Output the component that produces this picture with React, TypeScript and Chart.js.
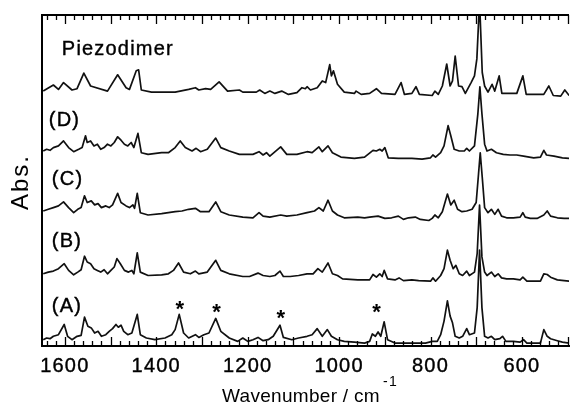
import React, { useEffect, useRef } from "react";
import { Chart, registerables } from "chart.js";

Chart.register(...registerables);

const FONT = "'Liberation Sans', Arial, Helvetica, sans-serif";

// ---- axis ----
const X_MAX = 1650; // left edge (wavenumber axis runs right-to-left)
const X_MIN = 497;
const Y_MIN = 0;
const Y_MAX = 331;
const xTickLabels = [600, 800, 1000, 1200, 1400, 1600];

// ---- spectra: [wavenumber / cm-1, absorbance (arb.)] ----
const piezodimer: [number, number][] = [
  [1647.3, 4.9], [1625.1, 11], [1614, 6.6], [1602.9, 13.4], [1584.4, 6], [1573.3, 7.3], [1558.5, 22.9],
  [1543.7, 10], [1506.7, 4.9], [1484.5, 21.2], [1466, 8.3], [1458.6, 6.6], [1443.8, 25.2], [1438.6, 26.2],
  [1432.7, 6], [1410.5, 3.9], [1358.7, 3.9], [1329.1, 6.6], [1314.3, 8.3], [1306.9, 6], [1292.1, 7.3],
  [1281, 6.6], [1262.5, 14.1], [1244, 4.9], [1218.1, 6], [1210.7, 3.9], [1181.1, 3.9], [1173.7, 6],
  [1162.6, 2.6], [1151.5, 4.9], [1140.4, 2.6], [1125.6, 4.9], [1110.8, 1.6], [1092.3, 3.3], [1081.2, 8.3],
  [1073.8, 7.3], [1070.1, 9.3], [1062.7, 6], [1047.9, 8.3], [1036.8, 15.1], [1029.4, 13.4], [1020.5, 31.3],
  [1016.8, 20.1], [1012.4, 25.2], [1003.5, 11.7], [988.7, 3.9], [966.5, 2.6], [962.8, 4.9], [951.7, 1.6],
  [933.2, 2.6], [918.4, 7.3], [907.3, 2.6], [877.7, 1.6], [864.4, 13.4], [857, 1.6], [840.7, 2.6],
  [831.8, 9.3], [824.4, 1.6], [796.3, 0.5], [790.4, 4.9], [783, 1.6], [774.1, 10], [764.5, 32],
  [757.1, 10], [751.9, 15.1], [746, 39.8], [738.6, 10], [731.2, 9.3], [723.8, 2.6], [711.2, 13.4],
  [703.8, 20.1], [698.6, 37.1], [692.7, 95], [686.8, 23.5], [681.6, 10], [674.2, 3.9], [665.3, 11.7],
  [659.4, 4.9], [649.8, 20.1], [643.9, 2.6], [611.2, 2.6], [597.9, 20.1], [590.6, 1.6], [552.2, 1.6],
  [541.1, 10], [531.4, 0.5], [515.1, -0.1], [506.2, 6], [496.6, 0.5],
];

const sampleD: [number, number][] = [
  [1647.3, 5], [1639.9, 6.7], [1632.5, 5.7], [1625.1, 8.4], [1614, 10.1], [1602.9, 15.1], [1591.8, 8.4],
  [1580.7, 4.3], [1569.6, 6.7], [1562.2, 8.4], [1554.8, 20.2], [1551.1, 13.5], [1543.7, 15.1], [1536.3, 10.1],
  [1528.9, 11.8], [1521.5, 6.7], [1514.1, 8.4], [1506.7, 11.8], [1499.3, 10.1], [1491.9, 13.5], [1484.5, 19.2],
  [1477.1, 15.8], [1469.7, 11.8], [1462.3, 10.1], [1454.9, 13.5], [1449, 8.4], [1440.1, 22.6], [1432.7, 3.3],
  [1417.9, 1.6], [1388.3, 3.3], [1373.5, 3.3], [1358.7, 8.4], [1347.6, 15.1], [1336.5, 8.4], [1321.7, 5],
  [1312.8, 7.7], [1303.2, 4.3], [1288.4, 6.7], [1269.9, 17.9], [1258.8, 8.4], [1240.3, 5], [1218.1, 1.6],
  [1188.5, 1.6], [1175.2, 4.3], [1166.3, 1], [1158.9, 3.3], [1151.5, -0.1], [1127.8, 9.1], [1114.5, 1.6],
  [1092.3, 1.6], [1070.1, 4.3], [1059, 3.3], [1044.2, 9.1], [1036.8, 4.3], [1024.2, 10.1], [1014.6, 3.3],
  [996.1, -1.1], [966.5, -2.4], [944.3, -1.1], [925.8, 5.7], [918.4, 5], [911, 6.7], [905.8, 5],
  [899.9, 8.4], [892.5, -1.8], [870.3, -2.4], [840.7, -2.4], [818.5, -3.1], [800, -1.8], [794.8, 1],
  [788.9, -1.1], [777.8, 3.3], [770.4, 10.1], [761.5, 30.4], [755.6, 20.2], [748.2, 6.7], [737.1, 5],
  [726, 5], [720.8, 7.7], [714.9, 5], [703.8, 10.1], [696.4, 42.2], [692, 69.2], [687.5, 42.2],
  [681.6, 11.8], [676.4, 5], [666.8, 6.7], [655.7, 3.3], [640.9, 1.6], [626.1, 1], [611.3, 1],
  [596.5, -0.1], [574.3, -1.8], [559.5, -1.1], [552.1, 5.7], [546.2, 1], [529.9, -0.1], [511.4, -1.8],
  [496.6, -2.4],
];

const sampleC: [number, number][] = [
  [1647.3, 7], [1636.2, 8.7], [1625.1, 10.4], [1614, 12.1], [1602.9, 16.1], [1591.8, 10.4], [1580.7, 5.3],
  [1571.8, 8.7], [1564.4, 10.4], [1557, 22.2], [1551.1, 15.5], [1542.2, 17.1], [1534.8, 13.1], [1527.4, 14.4],
  [1520, 10.4], [1510.4, 12.1], [1503, 10.4], [1495.6, 13.1], [1484.5, 24.6], [1477.1, 15.5], [1466, 12.1],
  [1458.6, 10.4], [1451.2, 13.1], [1447.5, 9.7], [1441.6, 24.6], [1434.9, 5.3], [1417.9, 3], [1388.3, 4.3],
  [1358.7, 6.3], [1343.9, 7], [1329.1, 8.7], [1314.3, 9.7], [1303.2, 6.3], [1284.7, 6.3], [1269.9, 16.1],
  [1258.8, 6.3], [1240.3, 3], [1210.7, 0.9], [1188.5, 0.2], [1175.2, 5.3], [1166.3, 1.9], [1151.5, 0.9],
  [1127.8, 3], [1114.5, 1.9], [1092.3, 3], [1070.1, 5.3], [1053.8, 7], [1044.2, 10.4], [1034.6, 7],
  [1024.2, 17.8], [1014.6, 7], [1003.5, 3], [988.7, 0.2], [959.1, 0.9], [944.3, 0.2], [933.2, 0.9],
  [914.7, 1.9], [899.9, -0.4], [885.1, 0.2], [870.3, 1.9], [859.2, -1.4], [848.1, 0.2], [833.3, 0.9],
  [822.2, -1.4], [803.7, -2.5], [796.3, -0.4], [790.4, 3], [783, 0.2], [774.1, 6.3], [763, 23.9],
  [755.6, 13.1], [748.2, 17.8], [740.8, 8.7], [731.2, 6.3], [720.8, 7], [709, 8.7], [700.1, 15.5],
  [694.9, 44.2], [691.2, 65.2], [686.8, 40.8], [681.6, 10.4], [674.2, 5.3], [666.8, 8.7], [659.4, 3.6],
  [652, 8.7], [644.6, 1.9], [633.5, 0.2], [618.7, 0.2], [603.9, 0.9], [598, 5.3], [592.8, 0.9],
  [581.7, -0.4], [566.9, -0.4], [552.1, 3], [544.7, 7], [537.3, 1.9], [522.5, 0.2], [507.7, -0.4],
  [496.6, -0.4],
];

const sampleB: [number, number][] = [
  [1647.3, 6.2], [1636.2, 7.9], [1625.1, 8.9], [1614, 11.3], [1601.4, 16.3], [1591.8, 9.6], [1580.7, 5.2],
  [1571.8, 7.9], [1564.4, 10.3], [1557, 23.8], [1551.1, 18], [1543.7, 16.3], [1536.3, 11.3], [1528.9, 9.6],
  [1521.5, 7.9], [1514.1, 10.3], [1506.7, 6.2], [1499.3, 9.6], [1491.9, 13], [1486, 21.4], [1478.6, 16.3],
  [1469.7, 9.6], [1460.8, 7.9], [1453.4, 9.6], [1449, 6.2], [1441.6, 27.2], [1434.9, 7.9], [1417.9, 4.5],
  [1388.3, 5.2], [1373.5, 6.2], [1362.4, 9.6], [1351.3, 17], [1340.2, 7.9], [1325.4, 6.2], [1314.3, 8.9],
  [1306.9, 6.2], [1288.4, 7.9], [1269.9, 19.7], [1258.8, 9.6], [1240.3, 6.2], [1210.7, 3.5], [1195.9, 3.5],
  [1177.4, 6.9], [1166.3, 4.5], [1151.5, 3.5], [1140.4, 4.5], [1129.3, 8.9], [1121.9, 3.5], [1107.1, 3.5],
  [1088.6, 4.5], [1070.1, 6.2], [1056.8, 6.2], [1046.4, 11.3], [1036.8, 7.9], [1024.2, 17], [1014.6, 6.2],
  [1003.5, 4.5], [992.4, 1.1], [959.1, 0.1], [933.2, 0.1], [925.8, 5.5], [918.4, 2.8], [911, 6.2],
  [905.8, 3.5], [901.4, 9.6], [894, 1.1], [877.7, 0.1], [868.8, 2.1], [859.2, -0.6], [840.7, 0.1],
  [825.9, -0.6], [800, -1.2], [794.8, 2.1], [788.9, -1.2], [777.8, 4.5], [770.4, 11.3], [763, 29.9],
  [757.1, 19.7], [750.4, 11.3], [744.5, 14.6], [737.1, 6.2], [729.7, 4.5], [720.8, 8.9], [714.9, 4.5],
  [703.8, 7.9], [697.9, 26.5], [692.7, 75], [687.5, 23.1], [681.6, 7.9], [676.4, 4.5], [666.8, 7.9],
  [659.4, 3.5], [652, 6.2], [644.6, 2.1], [633.5, 1.1], [618.7, 1.1], [603.9, 0.1], [598, 2.8],
  [589.1, -1.2], [559.5, -1.2], [552.1, 6.2], [544.7, 5.5], [537.3, 2.8], [522.5, 0.1], [507.7, -0.6],
  [496.6, -1.2],
];

const sampleA: [number, number][] = [
  [1647.3, 2.3], [1639.9, 4], [1632.5, 3.3], [1625.1, 5.7], [1614, 7.3], [1601.4, 17.5], [1594, 5.7],
  [1584.4, 2.3], [1573.3, 5.7], [1564.4, 6.7], [1557, 24.9], [1549.6, 15.8], [1542.2, 14.1], [1534.8, 9],
  [1527.4, 10.7], [1520, 5.7], [1510.4, 7.3], [1503, 10.7], [1495.6, 13.4], [1488.2, 17.5], [1483, 14.8],
  [1477.1, 16.8], [1471.2, 10.7], [1462.3, 7.3], [1453.4, 9], [1441.6, 27.6], [1434.9, 7.3], [1421.6, 4],
  [1403.1, 2.3], [1380.9, 4], [1366.1, 7.3], [1358.7, 12.4], [1349.8, 27.6], [1340.2, 9], [1329.1, 4],
  [1314.3, 7.3], [1306.9, 4.6], [1295.8, 7.3], [1284.7, 9], [1269.9, 23.6], [1258.8, 10.7], [1240.3, 4],
  [1221.8, 0.6], [1210.7, 4], [1199.6, 0.6], [1188.5, 2.3], [1177.4, 4.6], [1166.3, 1.3], [1155.2, 2.3],
  [1144.1, 5.7], [1129.3, 16.8], [1121.9, 4.6], [1103.4, 2.3], [1088.6, 4], [1070.1, 5.7], [1059, 7.3],
  [1047.9, 13.4], [1036.8, 5.7], [1025.7, 12.4], [1016.8, 5.7], [1003.5, 2.3], [988.7, 0.6], [966.5, -0.1],
  [944.3, -1.1], [933.2, 0.6], [927.3, 8], [920.6, 5.7], [914.7, 10], [908.8, 5.7], [901.4, 20.2],
  [894, 2.3], [877.7, -1.1], [855.5, -1.1], [833.3, -1.1], [811.1, -1.1], [796.3, 0.6], [785.2, 0.6],
  [777.8, 7.3], [770.4, 20.9], [763, 41.1], [757.1, 25.9], [751.9, 19.2], [746, 5.7], [737.1, 4],
  [729.7, 5.7], [720.8, 13.4], [714.9, 7.3], [703.8, 9], [697.9, 34.4], [692.7, 91.9], [687.5, 34.4],
  [681.6, 5.7], [674.2, 4], [666.8, 5.7], [659.4, 2.3], [648.3, 3.3], [642.4, 5.7], [635, 0.6],
  [618.7, 0.6], [603.9, -0.1], [596.5, 2.3], [589.1, -1.1], [559.5, -1.1], [552.1, 12.4], [544.7, 5.7],
  [537.3, 3.3], [522.5, 1.3], [511.4, -0.1], [496.6, -1.1],
];

// vertical offsets used to stack the spectra
const traceNames = ["Piezodimer", "(D)", "(C)", "(B)", "(A)"];
const traceOffsets = [250, 190, 128, 66, 4];
const traceData = [piezodimer, sampleD, sampleC, sampleB, sampleA];

// label anchors (wavenumber, absorbance)
const labelWn = [1606.6, 1635, 1628.4, 1628.4, 1628.4];
const labelAbs = [296.5, 226, 167, 104.5, 39.5];

// asterisks marking bands in (A)
const starWn = [1348.4, 1268, 1127.5, 918];
const starAbs = [42, 38.7, 32.7, 38.7];

const decorPlugin = {
  id: "decor",
  beforeDraw(chart: any) {
    chart.ctx.letterSpacing = "1.2px";
  },
  afterDraw(chart: any) {
    const { ctx, chartArea: ca, scales } = chart;
    const xs = scales.x;
    const ys = scales.y;
    ctx.save();
    ctx.strokeStyle = "#000";
    ctx.fillStyle = "#000";
    // top frame line
    ctx.lineWidth = 2;
    ctx.beginPath();
    ctx.moveTo(ca.left - 1, ca.top);
    ctx.lineTo(ca.right, ca.top);
    ctx.stroke();
    // inward tick marks, top and bottom
    ctx.lineWidth = 1.3;
    for (let v = 500; v <= X_MAX; v += 20) {
      const px = Math.round(xs.getPixelForValue(v)) + 0.5;
      if (px <= ca.left + 1 || px > ca.right) continue;
      const len = v % 100 === 0 ? 9 : 5;
      ctx.beginPath();
      ctx.moveTo(px, ca.top);
      ctx.lineTo(px, ca.top + len);
      ctx.moveTo(px, ca.bottom);
      ctx.lineTo(px, ca.bottom - len);
      ctx.stroke();
    }
    // trace labels
    ctx.font = `20px ${FONT}`;
    ctx.letterSpacing = "1.2px";
    ctx.textAlign = "left";
    ctx.textBaseline = "middle";
    ctx.lineWidth = 0.4;
    traceNames.forEach((t, i) => {
      const px = xs.getPixelForValue(labelWn[i]);
      const py = ys.getPixelForValue(labelAbs[i]);
      ctx.fillText(t, px, py);
      ctx.strokeText(t, px, py);
    });
    // asterisks
    ctx.font = `bold 22px ${FONT}`;
    ctx.letterSpacing = "0px";
    ctx.textAlign = "center";
    ctx.textBaseline = "alphabetic";
    starWn.forEach((w, i) => {
      ctx.fillText("*", xs.getPixelForValue(w), ys.getPixelForValue(starAbs[i]) + 12);
    });
    // y title
    ctx.save();
    ctx.translate(21, (ca.top + ca.bottom) / 2 + 1.5);
    ctx.rotate(-Math.PI / 2);
    ctx.font = `24px ${FONT}`;
    ctx.letterSpacing = "2px";
    ctx.textAlign = "center";
    ctx.textBaseline = "middle";
    ctx.fillText("Abs.", 0, 0);
    ctx.restore();
    // x title with superscript
    ctx.letterSpacing = "0.3px";
    ctx.font = `19px ${FONT}`;
    ctx.textAlign = "left";
    ctx.textBaseline = "alphabetic";
    const main = "Wavenumber / cm";
    const x0 = 222;
    ctx.fillText(main, x0, 402);
    const w = ctx.measureText(main).width;
    ctx.font = `14px ${FONT}`;
    ctx.letterSpacing = "1.5px";
    ctx.fillText("-1", x0 + w + 3, 386);
    ctx.restore();
  },
};

export default function App() {
  const ref = useRef<HTMLCanvasElement>(null);
  useEffect(() => {
    document.body.style.margin = "0";
    const datasets = traceData.map((pts, i) => ({
      label: traceNames[i],
      data: pts.map(([x, y]) => ({ x, y: y + traceOffsets[i] })),
      borderColor: "#111",
      borderWidth: 1.7,
      pointRadius: 0,
      tension: 0,
      fill: false,
      borderJoinStyle: "round" as const,
    }));
    const chart = new Chart(ref.current!, {
      type: "line",
      data: { datasets },
      options: {
        animation: false,
        responsive: false,
        devicePixelRatio: 1,
        layout: { padding: { left: 0, right: 1, top: 15, bottom: 0 } },
        plugins: { legend: { display: false }, tooltip: { enabled: false } },
        scales: {
          x: {
            type: "linear",
            reverse: true,
            min: X_MIN,
            max: X_MAX,
            afterBuildTicks: (s: any) => {
              s.ticks = xTickLabels.map((v) => ({ value: v }));
            },
            afterFit: (s: any) => {
              s.height = 59;
            },
            grid: { display: false, drawTicks: false },
            border: { display: true, color: "#000", width: 2 },
            ticks: {
              color: "#000",
              padding: 8,
              maxRotation: 0,
              autoSkip: false,
              textStrokeColor: "#000",
              textStrokeWidth: 0.4,
              font: { family: FONT, size: 20 },
              callback: (v: any) => String(v),
            },
          },
          y: {
            type: "linear",
            min: Y_MIN,
            max: Y_MAX,
            afterFit: (s: any) => {
              s.width = 42;
            },
            grid: { display: false, drawTicks: false },
            border: { display: true, color: "#000", width: 2 },
            ticks: { display: false },
          },
        },
      },
      plugins: [decorPlugin],
    });
    return () => chart.destroy();
  }, []);
  return (
    <div style={{ position: "absolute", left: 0, top: 0, width: 570, height: 405, background: "#fff" }}>
      <canvas ref={ref} width={570} height={405} style={{ display: "block", width: 570, height: 405 }} />
    </div>
  );
}
